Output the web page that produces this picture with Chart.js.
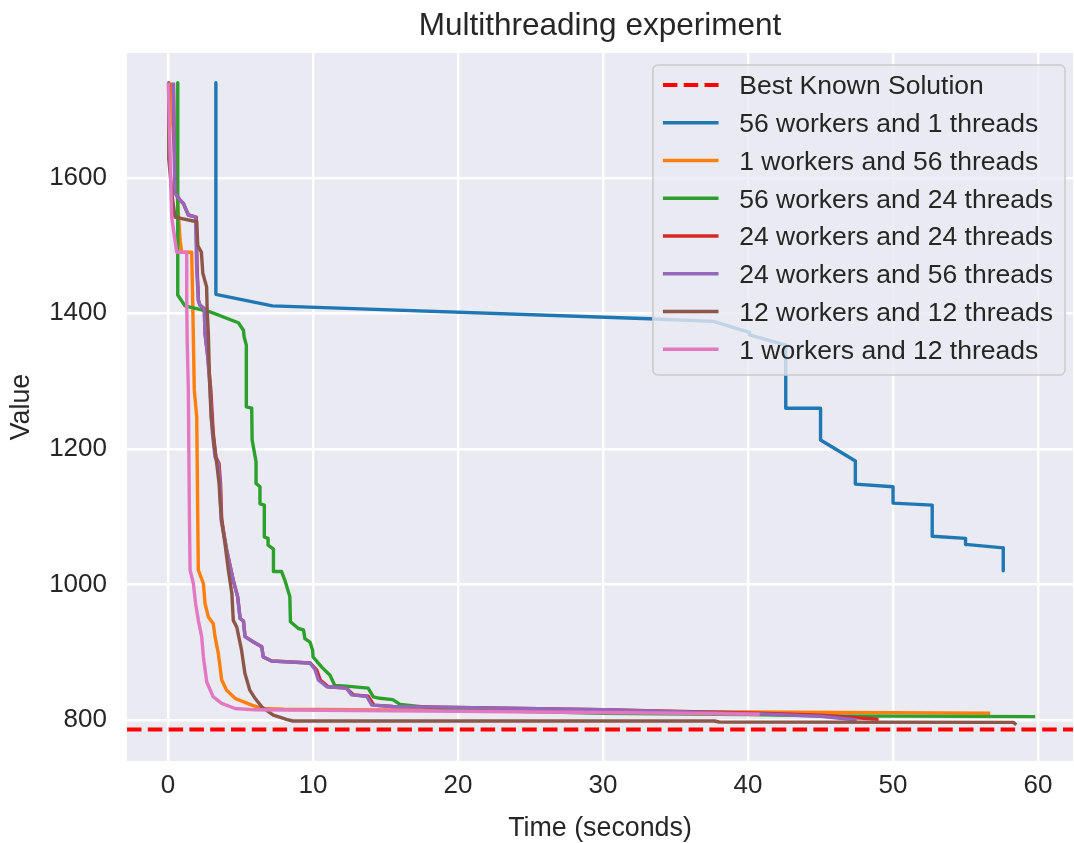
<!DOCTYPE html>
<html>
<head>
<meta charset="utf-8">
<script src="https://cdn.jsdelivr.net/npm/chart.js@4.4.1/dist/chart.umd.min.js"></script>
<style>
  html, body { margin: 0; padding: 0; background: #ffffff; }
  #wrap { width: 1074px; height: 843px; }
</style>
</head>
<body>
<div id="wrap"><canvas id="c" width="1074" height="843"></canvas></div>
<script>
// ---------------- data ----------------
const TITLE = 'Multithreading experiment';
const X_LABEL = 'Time (seconds)';
const Y_LABEL = 'Value';
const X_TICKS = [0, 10, 20, 30, 40, 50, 60];
const Y_TICKS = [800, 1000, 1200, 1400, 1600];
const X_MIN = -2.83, X_MAX = 62.41;
const Y_MIN = 739.5, Y_MAX = 1784;

const BEST_LABEL = 'Best Known Solution';
const BEST_VALUE = 786;

const labels = [
  '56 workers and 1 threads',
  '1 workers and 56 threads',
  '56 workers and 24 threads',
  '24 workers and 24 threads',
  '24 workers and 56 threads',
  '12 workers and 12 threads',
  '1 workers and 12 threads'
];
const colors = ['#1f77b4', '#ff7f0e', '#2ca02c', '#d62728', '#9467bd', '#8c564b', '#e377c2'];

const w56t1_x = [3.3, 3.3, 7.2, 33.2, 37.6, 40.1, 40.1, 42.6, 42.6, 45, 45, 47.4, 47.4, 50, 50, 52.7, 52.7, 55, 55, 57.6, 57.6];
const w56t1_y = [1740, 1428, 1411, 1392, 1388, 1372, 1368, 1353, 1260, 1260, 1213, 1182, 1148, 1144, 1120, 1117, 1071, 1068, 1059, 1054, 1020];

const w1t56_x = [0.15, 0.5, 0.83, 0.94, 1.63, 1.7, 1.81, 1.98, 2.05, 2.09, 2.44, 2.55, 2.78, 3.12, 3.24, 3.47, 3.7, 4.04, 4.62, 5.77, 6.46, 8, 20, 40, 56.7];
const w1t56_y = [1740, 1620, 1508, 1490, 1490, 1419, 1287, 1247, 1095, 1021, 1001, 972, 952, 942, 923, 898, 859, 844, 832, 822, 817, 816, 814, 812, 810];

const w56t24_x = [0.67, 0.67, 1.17, 2.9, 4.85, 5.2, 5.25, 5.4, 5.4, 5.77, 5.8, 6.07, 6.07, 6.34, 6.34, 6.64, 6.64, 6.9, 6.9, 7.27, 7.27, 7.83, 8.06, 8.4, 8.44, 8.99, 9.34, 9.44, 9.79, 9.97, 10.0, 10.6, 11.17, 11.5, 12.3, 13.8, 14.16, 14.6, 15.5, 16.0, 17.8, 20, 30, 40, 45, 59.8];
const w56t24_y = [1740, 1427, 1411, 1402, 1386, 1375, 1365, 1353, 1262, 1260, 1213, 1181, 1149, 1144, 1119, 1117, 1070, 1068, 1058, 1052, 1019, 1019, 1006, 982, 945, 935, 933, 920, 915, 903, 893, 878, 866, 851, 850, 847, 834, 832, 830, 823, 819, 815, 810, 808, 806, 805];

const w24t24_x = [0.37, 0.48, 0.83, 1.06, 1.4, 1.95, 2.0, 2.1, 2.2, 2.5, 2.55, 2.74, 2.95, 3.12, 3.3, 3.52, 3.62, 3.7, 4.04, 4.5, 4.8, 4.97, 5.2, 5.31, 5.89, 6.46, 6.57, 7.14, 9.8, 10.25, 10.5, 11.05, 12.3, 12.8, 13.8, 14.2, 15.5, 18.8, 30, 40.8, 45, 49];
const w24t24_y = [1740, 1577, 1567, 1562, 1545, 1542, 1468, 1419, 1412, 1407, 1370, 1336, 1287, 1223, 1188, 1178, 1149, 1095, 1051, 1006, 982, 950, 946, 923, 915, 908, 893, 887, 884, 874, 859, 849, 847, 837, 835, 822, 820, 819, 815, 810, 807, 801];

const w24t56_x = [0.37, 0.48, 0.83, 1.06, 1.4, 1.9, 1.97, 2.09, 2.2, 2.5, 2.55, 2.74, 2.9, 3.06, 3.24, 3.47, 3.59, 3.66, 4.04, 4.5, 4.8, 4.97, 5.2, 5.31, 5.89, 6.46, 6.57, 7.14, 9.8, 10.14, 10.37, 10.94, 12.3, 12.66, 13.7, 14.05, 15.5, 18.8, 30, 40.8, 45, 47.5];
const w24t56_y = [1740, 1577, 1567, 1562, 1545, 1542, 1468, 1419, 1412, 1407, 1370, 1336, 1287, 1223, 1188, 1178, 1149, 1095, 1051, 1006, 982, 950, 946, 923, 915, 908, 893, 887, 884, 874, 859, 849, 847, 837, 835, 822, 820, 819, 815, 809, 805.5, 800];

const w12t12_x = [0.05, 0.05, 0.3, 0.48, 1.98, 2.05, 2.3, 2.4, 2.66, 2.7, 2.78, 2.85, 2.97, 3.2, 3.36, 3.52, 3.6, 3.7, 3.93, 4.16, 4.4, 4.5, 4.74, 5.07, 5.3, 5.64, 6.0, 6.46, 7.26, 8.17, 8.6, 37.7, 38, 58.3, 58.5];
const w12t12_y = [1740, 1628, 1570, 1542, 1535, 1500, 1490, 1459, 1439, 1404, 1370, 1311, 1247, 1203, 1178, 1149, 1119, 1095, 1060, 1021, 987, 947, 937, 903, 869, 844, 832, 819.5, 807, 801, 798.5, 798.5, 797, 796.5, 793];

const w1t12_x = [0.02, 0.25, 0.35, 0.6, 1.29, 1.29, 1.32, 1.4, 1.47, 1.52, 1.75, 1.9, 2.09, 2.32, 2.44, 2.67, 3.12, 3.7, 4.62, 6, 20, 35, 40.8];
const w1t12_y = [1740, 1542, 1527, 1490, 1490, 1419, 1360, 1287, 1109, 1021, 1001, 972, 947, 923, 893, 856, 834, 824.5, 817, 815, 813, 810, 808.5];

const seriesX = [w56t1_x, w1t56_x, w56t24_x, w24t24_x, w24t56_x, w12t12_x, w1t12_x];
const seriesY = [w56t1_y, w1t56_y, w56t24_y, w24t24_y, w24t56_y, w12t12_y, w1t12_y];

// ---------------- styles ----------------
const TEXT_COLOR = '#262626';
const FONT = '"Liberation Sans", Arial, Helvetica, sans-serif';
const AX_BG = '#EAEAF2';
const LINE_W = 3.4;
const DASH_W = 3.9;
const DASH = [14.5, 6.3];

const pts = (xs, ys) => xs.map((x, i) => ({ x: x, y: ys[i] }));

const datasets = [{
  label: BEST_LABEL,
  data: [{ x: X_MIN, y: BEST_VALUE }, { x: X_MAX, y: BEST_VALUE }],
  borderColor: '#ff0000',
  borderWidth: DASH_W,
  borderDash: DASH,
  pointRadius: 0,
  order: 100
}];
labels.forEach((lab, i) => {
  datasets.push({
    label: lab,
    data: pts(seriesX[i], seriesY[i]),
    borderColor: colors[i],
    borderWidth: LINE_W,
    borderJoinStyle: 'round',
    pointRadius: 0,
    tension: 0,
    order: 50 - i
  });
});

const bgPlugin = {
  id: 'axbg',
  beforeDraw(chart) {
    const { ctx, chartArea: a } = chart;
    ctx.save();
    ctx.fillStyle = '#ffffff';
    ctx.fillRect(0, 0, chart.width, chart.height);
    ctx.fillStyle = AX_BG;
    ctx.fillRect(a.left, a.top, a.right - a.left, a.bottom - a.top);
    ctx.restore();
  }
};

const legendPlugin = {
  id: 'innerLegend',
  afterDatasetsDraw(chart) {
    const { ctx, chartArea: a } = chart;
    const fs = 26.5;
    const rowH = 37.75;
    const padL = 10, handle = 55.6, gap = 20.7, padR = 12;
    ctx.save();
    ctx.font = fs + 'px ' + FONT;
    const items = chart.data.datasets.map(d => ({ text: d.label, color: d.borderColor, dash: d.borderDash || [], w: d.borderWidth }));
    let maxW = 0;
    items.forEach(it => { maxW = Math.max(maxW, ctx.measureText(it.text).width); });
    const right = a.right - 8;
    const top = a.top + 12;
    const width = padL + handle + gap + maxW + padR;
    const left = right - width;
    const height = 310;
    const r = 5;
    ctx.beginPath();
    ctx.moveTo(left + r, top);
    ctx.lineTo(right - r, top);
    ctx.arcTo(right, top, right, top + r, r);
    ctx.lineTo(right, top + height - r);
    ctx.arcTo(right, top + height, right - r, top + height, r);
    ctx.lineTo(left + r, top + height);
    ctx.arcTo(left, top + height, left, top + height - r, r);
    ctx.lineTo(left, top + r);
    ctx.arcTo(left, top, left + r, top, r);
    ctx.closePath();
    ctx.fillStyle = 'rgba(234,234,242,0.8)';
    ctx.fill();
    ctx.lineWidth = 1.6;
    ctx.strokeStyle = '#cccccc';
    ctx.stroke();
    items.forEach((it, i) => {
      const y = top + 20 + i * rowH;
      ctx.beginPath();
      ctx.setLineDash(it.dash.length ? DASH : []);
      ctx.lineWidth = it.w;
      ctx.strokeStyle = it.color;
      ctx.moveTo(left + padL, y);
      ctx.lineTo(left + padL + handle, y);
      ctx.stroke();
      ctx.setLineDash([]);
      ctx.fillStyle = TEXT_COLOR;
      ctx.textBaseline = 'middle';
      ctx.textAlign = 'left';
      ctx.fillText(it.text, left + padL + handle + gap, y + 2);
    });
    ctx.restore();
  }
};

new Chart(document.getElementById('c'), {
  type: 'line',
  data: { datasets: datasets },
  plugins: [bgPlugin, legendPlugin],
  options: {
    responsive: false,
    animation: false,
    devicePixelRatio: 1,
    layout: { padding: { top: 0, left: 0, right: 1, bottom: 0 } },
    elements: { line: { fill: false, tension: 0 } },
    plugins: {
      legend: { display: false },
      tooltip: { enabled: false },
      title: {
        display: true,
        fullSize: false,
        text: TITLE,
        color: TEXT_COLOR,
        font: { family: FONT, size: 31.5, weight: 'normal', lineHeight: 1.2 },
        padding: { top: 7, bottom: 8.2 }
      }
    },
    scales: {
      x: {
        type: 'linear',
        min: X_MIN,
        max: X_MAX,
        afterBuildTicks(scale) { scale.ticks = X_TICKS.map(v => ({ value: v })); },
        afterFit(scale) { scale.height = 82; },
        grid: { color: '#ffffff', lineWidth: 2.4, drawTicks: false },
        border: { display: false },
        ticks: {
          color: TEXT_COLOR,
          font: { family: FONT, size: 26, lineHeight: 1.2 },
          padding: 9,
          maxRotation: 0,
          callback: v => String(v)
        },
        title: {
          display: true,
          text: X_LABEL,
          color: TEXT_COLOR,
          font: { family: FONT, size: 26.8, lineHeight: 1.0 },
          padding: { top: 0, bottom: 1 }
        }
      },
      y: {
        type: 'linear',
        min: Y_MIN,
        max: Y_MAX,
        afterBuildTicks(scale) { scale.ticks = Y_TICKS.map(v => ({ value: v })); },
        afterFit(scale) { scale.width = 127; },
        grid: { color: '#ffffff', lineWidth: 2.4, drawTicks: false },
        border: { display: false },
        ticks: {
          color: TEXT_COLOR,
          font: { family: FONT, size: 26, lineHeight: 1.2 },
          padding: 20,
          callback: v => String(v)
        },
        title: {
          display: true,
          text: Y_LABEL,
          color: TEXT_COLOR,
          font: { family: FONT, size: 26.8, lineHeight: 1.0 },
          padding: { top: 8, bottom: 0 }
        }
      }
    }
  }
});
</script>
</body>
</html>
